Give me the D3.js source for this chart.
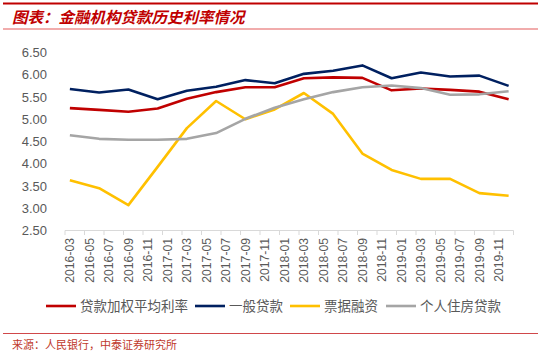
<!DOCTYPE html>
<html><head><meta charset="utf-8">
<script src="https://cdn.jsdelivr.net/npm/d3@7/dist/d3.min.js"></script>
<style>html,body{margin:0;padding:0;background:#fff;}svg{display:block;}</style>
</head><body>
<svg id="c" width="550" height="352"></svg>
<script>
// month categories 2016-03 .. 2019-12
const months = [];
for (let y = 2016; y <= 2019; y++) for (let m = 1; m <= 12; m++) {
  if (y === 2016 && m < 3) continue;
  months.push(y + "-" + String(m).padStart(2, "0"));
}
const dates = ["2016-03","2016-06","2016-09","2016-12","2017-03","2017-06","2017-09","2017-12",
               "2018-03","2018-06","2018-09","2018-12","2019-03","2019-06","2019-09","2019-12"];
const weighted = [5.25,5.21,5.17,5.24,5.46,5.61,5.72,5.72,5.92,5.94,5.93,5.65,5.69,5.66,5.62,5.45];
const general  = [5.68,5.60,5.67,5.45,5.64,5.73,5.88,5.81,6.02,6.09,6.21,5.92,6.05,5.96,5.98,5.75];
const bill     = [3.63,3.45,3.07,3.93,4.80,5.41,5.00,5.22,5.59,5.12,4.23,3.86,3.66,3.66,3.34,3.28];
const housing  = [4.64,4.56,4.54,4.54,4.56,4.69,5.01,5.26,5.45,5.61,5.72,5.76,5.70,5.55,5.56,5.63];
const yTicks = [2.5,3.0,3.5,4.0,4.5,5.0,5.5,6.0,6.5];
const seriesNames = ["贷款加权平均利率","一般贷款","票据融资","个人住房贷款"];
const colors = ["#c00000","#002060","#ffc000","#a5a5a5"];
const seriesData = [weighted, general, bill, housing];

const svg = d3.select("#c");
const cjk = "'Noto Sans CJK SC','Noto Sans',sans-serif";

// header
svg.append("line").attr("x1",3).attr("x2",538).attr("y1",3.5).attr("y2",3.5)
  .attr("stroke","#c00000").attr("stroke-width",2);
svg.append("text").attr("x",12).attr("y",23).text("图表：金融机构贷款历史利率情况")
  .attr("font-family",cjk).attr("font-size",15.5).attr("font-weight","bold")
  .attr("font-style","italic").attr("fill","#c00000");
svg.append("line").attr("x1",3).attr("x2",538).attr("y1",29).attr("y2",29)
  .attr("stroke","#ec9090").attr("stroke-width",1.5);

// footer
svg.append("line").attr("x1",3).attr("x2",538).attr("y1",333.5).attr("y2",333.5)
  .attr("stroke","#d0484a").attr("stroke-width",1.2);
svg.append("text").attr("x",12).attr("y",349).text("来源：人民银行，中泰证券研究所")
  .attr("font-family",cjk).attr("font-size",11).attr("fill","#c0392b");

const x = d3.scaleBand().domain(months).range([65, 513.5]).paddingInner(0).paddingOuter(0);
const y = d3.scaleLinear().domain([2.5, 6.5]).range([230.5, 52.5]);

// y labels
svg.append("g").selectAll("text").data(yTicks).join("text")
  .attr("x",47).attr("y",d=>y(d)).attr("dy","0.36em").attr("text-anchor","end")
  .attr("font-family","'Liberation Sans',Arial,sans-serif").attr("font-size",13)
  .attr("fill","#595959").text(d=>d.toFixed(2));

// x axis
const xa = svg.append("g");
xa.append("line").attr("x1",65).attr("x2",513.5).attr("y1",230.5).attr("y2",230.5)
  .attr("stroke","#d9d9d9").attr("stroke-width",1);
const tickIdx = d3.range(0, months.length + 1, 2);
xa.selectAll("line.t").data(tickIdx).join("line").attr("class","t")
  .attr("x1",i=> i < months.length ? x(months[i]) : x.range()[1])
  .attr("x2",i=> i < months.length ? x(months[i]) : x.range()[1])
  .attr("y1",230.5).attr("y2",235).attr("stroke","#d9d9d9");
const labelMonths = months.filter((m,i)=> i % 2 === 0);
xa.selectAll("text").data(labelMonths).join("text")
  .attr("transform", d=>`translate(${x(d)+x.bandwidth()/2+4.5},238) rotate(-90)`)
  .attr("text-anchor","end")
  .attr("font-family","'Liberation Sans',Arial,sans-serif").attr("font-size",12.2)
  .attr("fill","#595959").text(d=>d);

// lines
const line = d3.line().x(d=>x(d[0])+x.bandwidth()/2).y(d=>y(d[1]));
seriesData.forEach((vals,k)=>{
  svg.append("path").datum(dates.map((d,i)=>[d, vals[i]]))
    .attr("d", line).attr("fill","none").attr("stroke",colors[k])
    .attr("stroke-width",2.6).attr("stroke-linejoin","round");
});

// legend
const legX = [46, 195, 290, 386];
const lg = svg.append("g");
seriesNames.forEach((n,k)=>{
  lg.append("line").attr("x1",legX[k]).attr("x2",legX[k]+30).attr("y1",306).attr("y2",306)
    .attr("stroke",colors[k]).attr("stroke-width",2.6);
  lg.append("text").attr("x",legX[k]+34).attr("y",306).attr("dy","0.36em")
    .attr("font-family",cjk).attr("font-size",13.5).attr("fill","#595959").text(n);
});
</script>
</body></html>
